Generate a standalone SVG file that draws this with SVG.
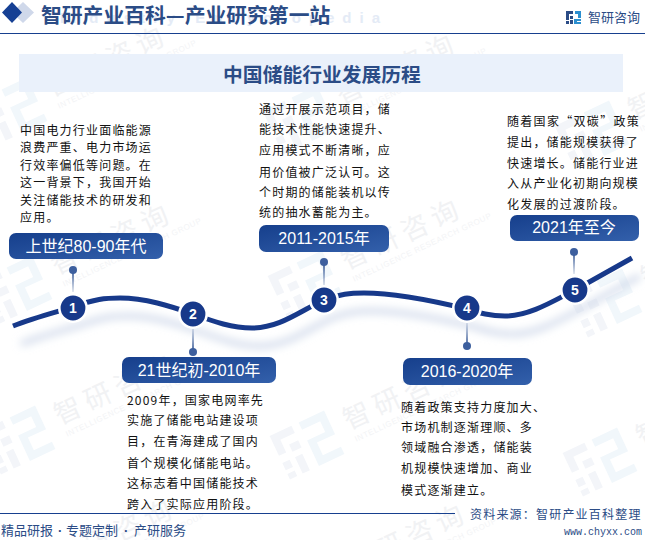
<svg xmlns="http://www.w3.org/2000/svg" width="645" height="540" viewBox="0 0 645 540">
<style>
text{font-family:"Noto Sans CJK SC","Liberation Sans",sans-serif}
.b{font-size:12px;fill:#111;letter-spacing:1.2px}
.l{font-size:16px;fill:#fff;text-anchor:middle;font-family:"Liberation Sans","Noto Sans CJK SC",sans-serif}
.n{font-size:14px;font-weight:bold;fill:#fff;text-anchor:middle;font-family:"Liberation Sans",sans-serif}
.dot{fill:#3d5f9e}
.c{fill:#17398a;stroke:#fff;stroke-width:2.6}
.p{fill:url(#g)}
.wt{fill:#f1f2f4;font-size:27px;letter-spacing:6px}
.ws{fill:#f3f4f6;font-size:8px;letter-spacing:.6px;font-family:"Liberation Sans",sans-serif}
.sep{font-size:13px;font-weight:bold;fill:#2b4c86;font-family:"Liberation Sans",sans-serif}
.ft{font-size:13px;fill:#2b4c86}
.en{font-size:15px;font-weight:bold;fill:#e4ebf6;font-family:"Liberation Sans",sans-serif}
.url{font-size:10px;fill:#2b4c86;text-anchor:end;font-family:"Liberation Mono",monospace}
</style>
<defs>
<linearGradient id="g" x1="0" y1="0" x2="1" y2="1"><stop offset="0" stop-color="#163f8c"/><stop offset="1" stop-color="#3360ab"/></linearGradient>
<linearGradient id="st" x1="0" y1="0" x2="0" y2="1"><stop offset="0" stop-color="#48679f"/><stop offset="1" stop-color="#48679f" stop-opacity=".15"/></linearGradient>
<linearGradient id="st2" x1="0" y1="1" x2="0" y2="0"><stop offset="0" stop-color="#48679f"/><stop offset="1" stop-color="#48679f" stop-opacity=".15"/></linearGradient>
<filter id="bl" x="-5%" y="-50%" width="110%" height="200%"><feGaussianBlur stdDeviation="4"/></filter>
<path id="curve" d="M13 326C33 318 53 313 73 307C95 299 105 298 120 298C145 298 170 306 193 314C215 322 232 328 252 328C280 328 300 311 324 300C340 294 350 293 364 293C395 293 430 300 467 309C480 313 490 316 505 316C530 316 555 300 575 290L632 258"/>
<g id="wm">
<g transform="rotate(-25)">
<path d="M-30 -24H-6V-16H-22V-2H-30ZM-16 -8H-6V0H-16Z" fill="#f3f5f9"/>
<path d="M2 -24H30V2H10V16H30V24H2V-4H22V-16H2Z" fill="#f1f7fb"/>
<path d="M-30 6H-22V14H-30ZM-30 18H-22V24H-30ZM-16 6H-8V24H-16Z" fill="#f3f5f9"/>
<text class="wt" x="44" y="4">智研咨询</text>
<text class="ws" x="46" y="18">INTELLIGENCE RESEARCH GROUP</text>
</g>
</g>
</defs>
<rect width="645" height="540" fill="#fff"/>
<g id="watermark">
<use href="#wm" x="10" y="112"/><use href="#wm" x="300" y="120"/><use href="#wm" x="592" y="135"/>
<use href="#wm" x="15" y="290"/><use href="#wm" x="305" y="285"/><use href="#wm" x="605" y="303"/>
<use href="#wm" x="18" y="440"/><use href="#wm" x="307" y="445"/><use href="#wm" x="600" y="462"/>
<use href="#wm" x="18" y="585"/><use href="#wm" x="310" y="590"/>
</g>
<g id="header">
<text class="en" x="60" y="23" textLength="320">Industry Encyclopedia</text>
<path d="M23 2L34 12.500L23 23L12 12.500Z" fill="#cfd8ea"/>
<path d="M12 2L22 12.500L12 23L2 12.500Z" fill="#164094"/>
<text x="41" y="23" font-size="20.800" font-weight="bold" fill="#2b4c86">智研产业百科—产业研究第一站</text>
<rect x="0" y="33" width="645" height="1" fill="#17408f"/>
<g id="logo">
<path d="M566 11H573V14H569V20H566ZM570 16H573V19H570ZM566 21H569V24H566ZM570 20H573V24H570Z" fill="#2b4c86"/>
<path d="M575 11H581V18H578V14H575ZM574 19H581V21H577V24H574ZM577 22H581V24H577Z" fill="#2b8fd0"/>
</g>
<text x="588" y="22" font-size="13" fill="#2b4c86">智研咨询</text>
</g>
<g id="title">
<rect x="19" y="54" width="604" height="38" fill="#eaf1fb"/>
<text x="322" y="82" font-size="19.800" font-weight="bold" fill="#2b4c86" text-anchor="middle">中国储能行业发展历程</text>
</g>
<g id="connectors">
<use href="#curve" transform="translate(8 18)" fill="none" stroke="#ccd6e8" stroke-width="5" filter="url(#bl)"/>
<use href="#curve" fill="none" stroke="#17398a" stroke-width="5"/>
<rect x="72" y="270" width="2" height="22" fill="url(#st)"/>
<rect x="192" y="328" width="2" height="24" fill="url(#st2)"/>
<rect x="323" y="262" width="2" height="24" fill="url(#st)"/>
<rect x="466" y="323" width="2" height="23" fill="url(#st2)"/>
<rect x="573" y="252" width="2" height="22" fill="url(#st)"/>
<circle class="dot" cx="73" cy="270" r="4"/>
<circle class="dot" cx="193" cy="352" r="4"/>
<circle class="dot" cx="324" cy="262" r="4"/>
<circle class="dot" cx="467" cy="346" r="4"/>
<circle class="dot" cx="574" cy="252" r="4"/>
</g>
<g id="node1">
<rect class="p" x="9" y="233" width="154" height="26" rx="7"/>
<text class="l" x="86" y="251.500">上世纪80-90年代</text>
<circle class="c" cx="73" cy="308" r="13.700"/>
<text class="n" x="73" y="313">1</text>
<text class="b"><tspan x="20" y="134.500">中国电力行业面临能源</tspan><tspan x="20" y="151.500">浪费严重、电力市场运</tspan><tspan x="20" y="169.500">行效率偏低等问题。在</tspan><tspan x="20" y="186.500">这一背景下，我国开始</tspan><tspan x="20" y="204.500">关注储能技术的研发和</tspan><tspan x="20" y="221.500">应用。</tspan></text>
</g>
<g id="node2">
<rect class="p" x="122" y="357" width="154" height="26" rx="7"/>
<text class="l" x="199" y="375.500">21世纪初-2010年</text>
<circle class="c" cx="193" cy="314" r="13.700"/>
<text class="n" x="193" y="319">2</text>
<text class="b"><tspan x="127" y="404.500">2009年，国家电网率先</tspan><tspan x="127" y="424.500">实施了储能电站建设项</tspan><tspan x="127" y="445.500">目，在青海建成了国内</tspan><tspan x="127" y="467.500">首个规模化储能电站。</tspan><tspan x="127" y="487.500">这标志着中国储能技术</tspan><tspan x="127" y="508.500">跨入了实际应用阶段。</tspan></text>
</g>
<g id="node3">
<rect class="p" x="259" y="225" width="130" height="27" rx="7"/>
<text class="l" x="324" y="244">2011-2015年</text>
<circle class="c" cx="324" cy="300" r="13.700"/>
<text class="n" x="324" y="305">3</text>
<text class="b"><tspan x="259" y="113.500">通过开展示范项目，储</tspan><tspan x="259" y="133.500">能技术性能快速提升、</tspan><tspan x="259" y="154.500">应用模式不断清晰，应</tspan><tspan x="259" y="176.500">用价值被广泛认可。这</tspan><tspan x="259" y="196.500">个时期的储能装机以传</tspan><tspan x="259" y="216.500">统的抽水蓄能为主。</tspan></text>
</g>
<g id="node4">
<rect class="p" x="403" y="358" width="129" height="27" rx="7"/>
<text class="l" x="467" y="377">2016-2020年</text>
<circle class="c" cx="467" cy="308" r="13.700"/>
<text class="n" x="467" y="313">4</text>
<text class="b"><tspan x="401" y="411.500">随着政策支持力度加大、</tspan><tspan x="401" y="431.500">市场机制逐渐理顺、多</tspan><tspan x="401" y="451.500">领域融合渗透，储能装</tspan><tspan x="401" y="472.500">机规模快速增加、商业</tspan><tspan x="401" y="494.500">模式逐渐建立。</tspan></text>
</g>
<g id="node5">
<rect class="p" x="510" y="215" width="129" height="26" rx="7"/>
<text class="l" x="574" y="233">2021年至今</text>
<circle class="c" cx="575" cy="290" r="13.700"/>
<text class="n" x="575" y="295">5</text>
<text class="b" x="507" y="125.500" textLength="133">随着国家“双碳”政策</text>
<text class="b"><tspan x="507" y="146.500">提出，储能规模获得了</tspan><tspan x="507" y="167.500">快速增长。储能行业进</tspan><tspan x="507" y="187.500">入从产业化初期向规模</tspan><tspan x="507" y="208.500">化发展的过渡阶段。</tspan></text>
</g>
<g id="footer">
<rect x="0" y="513" width="455" height="1" fill="#17408f"/>
<text class="ft" x="1" y="535">精品研报</text>
<text class="sep" x="58" y="535">·</text>
<text class="ft" x="66" y="535">专题定制</text>
<text class="sep" x="124" y="535">·</text>
<text class="ft" x="134" y="535">产研服务</text>
<text x="470" y="519" font-size="12" fill="#2b4c86" letter-spacing="1.200">资料来源：智研产业百科整理</text>
<text class="url" x="642" y="535">www.chyxx.com</text>
</g>
</svg>
